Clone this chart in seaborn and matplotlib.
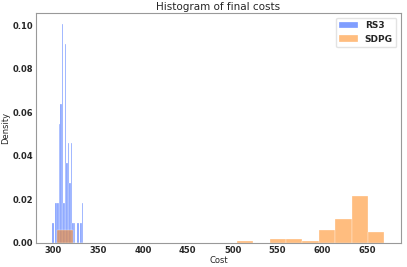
import numpy as np
import matplotlib
matplotlib.use("Agg")
import matplotlib.pyplot as plt
import seaborn as sns

# bin counts (20 bins per series, density normalised)
rs3_range = (299.2, 333.4)
rs3_counts = [1, 0, 2, 2, 6, 7, 11, 2, 10, 4, 5, 3, 5, 1, 1, 0, 1, 0, 1, 2]

sdpg_range = (304.0, 669.0)
sdpg_counts = [7, 0, 0, 0, 0, 0, 0, 0, 0, 0, 0, 1, 0, 2, 2, 1, 7, 13, 25, 6]

labels = ["RS3", "SDPG"]
colors = sns.color_palette("bright")[:2]

sns.set_style("white")
plt.rcParams["font.family"] = ["DejaVu Sans"]

fig, ax = plt.subplots(figsize=(4.07, 2.67), dpi=100)
fig.subplots_adjust(left=0.088, right=0.985, top=0.951, bottom=0.09)

for counts, rng, lab, col in zip([rs3_counts, sdpg_counts], [rs3_range, sdpg_range], labels, colors):
    nb = len(counts)
    edges = np.linspace(rng[0], rng[1], nb + 1)
    centers = (edges[:-1] + edges[1:]) / 2
    sns.histplot(x=centers, weights=counts, bins=nb, binrange=rng, stat="density",
                 color=col, alpha=0.5, edgecolor="white", linewidth=0.2,
                 label=lab, ax=ax)

ax.set_title("Histogram of final costs", fontsize=7.5, pad=2)
ax.set_xlabel("Cost", fontsize=6, labelpad=1)
ax.set_ylabel("Density", fontsize=6, labelpad=2)
ax.set_xticks([300, 350, 400, 450, 500, 550, 600, 650])
ax.set_yticks([0, 0.02, 0.04, 0.06, 0.08, 0.10])
ax.set_yticklabels(["0.00", "0.02", "0.04", "0.06", "0.08", "0.10"])
ax.tick_params(axis="both", labelsize=6, length=0, pad=2)
for t in ax.get_xticklabels() + ax.get_yticklabels():
    t.set_fontweight("bold")
for s in ax.spines.values():
    s.set_color("#999999")
    s.set_linewidth(0.8)
ax.margins(x=0.05, y=0.05)

leg = ax.legend(loc="upper right", prop={"weight": "bold", "size": 6.5}, frameon=True)
leg.get_frame().set_edgecolor("#dddddd")

plt.savefig("out.png", dpi=100)
